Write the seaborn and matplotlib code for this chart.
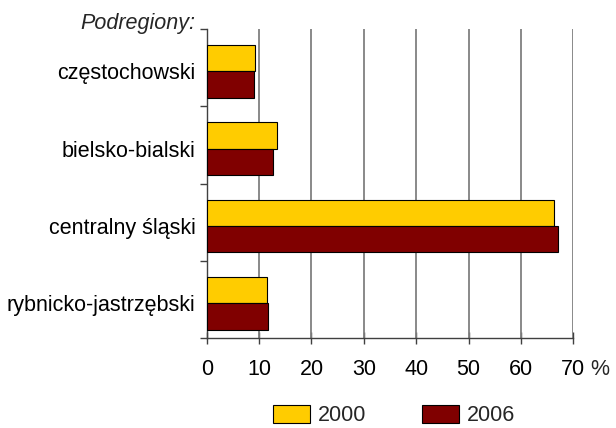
import matplotlib
matplotlib.use("Agg")
import matplotlib.pyplot as plt
import seaborn as sns
import pandas as pd
from matplotlib.patches import Patch
from matplotlib.ticker import FixedLocator

categories = ["częstochowski", "bielsko-bialski", "centralny śląski", "rybnicko-jastrzębski"]
years = ["2000", "2006"]
values_2000 = [9.2, 13.5, 66.3, 11.6]
values_2006 = [9.0, 12.7, 67.0, 11.8]
x_ticks = [0, 10, 20, 30, 40, 50, 60, 70]
x_tick_labels = ["0", "10", "20", "30", "40", "50", "60", "70"]
colors = {"2000": "#FFCC00", "2006": "#800000"}

df = pd.DataFrame({
    "Podregion": categories * 2,
    "Rok": [years[0]] * 4 + [years[1]] * 4,
    "Udział": values_2000 + values_2006,
})

sns.set_theme(style="white")
plt.rcParams["font.family"] = ["Liberation Sans", "DejaVu Sans"]
FS = 15.5

fig = plt.figure(figsize=(6.16, 4.28), dpi=100)
ax = fig.add_axes([206.7 / 616, 1 - 338 / 428, (573.3 - 206.7) / 616, (338 - 29) / 428])

sns.barplot(data=df, y="Podregion", x="Udział", hue="Rok", order=categories,
            hue_order=years, palette=colors, orient="h", width=0.68,
            edgecolor="black", linewidth=0.8, saturation=1, legend=False, ax=ax, zorder=3)

ax.set_xlim(0, 70)
ax.set_ylim(3.45, -0.55)
ax.set_xticks(x_ticks)
ax.set_xticklabels(x_tick_labels, fontsize=FS, color="black")
ax.set_xlabel("")
ax.set_ylabel("")
ax.tick_params(axis="y", length=0, pad=8, labelsize=FS, labelcolor="black")
ax.yaxis.set_minor_locator(FixedLocator([-0.55, 0.45, 1.45, 2.45, 3.45]))
ax.tick_params(axis="y", which="minor", length=5, width=1, color="#404040", left=True)
ax.tick_params(axis="x", direction="inout", length=8, width=1, color="#404040", pad=11, bottom=True)

for x in x_ticks[1:]:
    ax.axvline(x, color="#808080", linewidth=1.3, zorder=1)

for side in ["top", "right"]:
    ax.spines[side].set_visible(False)
for side in ["left", "bottom"]:
    ax.spines[side].set_color("#404040")
    ax.spines[side].set_linewidth(1.0)

ax.annotate("%", xy=(70, 0), xycoords=("data", "axes fraction"), xytext=(12, -(4 + 11)),
            textcoords="offset points", ha="left", va="top", fontsize=FS)

ax.annotate("Podregiony:", xy=(0, 1), xycoords="axes fraction", xytext=(-8, 0),
            textcoords="offset points", ha="right", va="baseline", fontsize=FS, style="italic")

handles = [Patch(facecolor=colors[y], edgecolor="black", linewidth=0.8, label=y) for y in years]
fig.legend(handles=handles, loc="upper center", bbox_to_anchor=(0.64, 0.079), ncol=2, frameon=False,
           fontsize=FS, handlelength=1.72, handleheight=0.9, columnspacing=2.6, handletextpad=0.37,
           borderpad=0)

fig.savefig("out.png", dpi=100, facecolor="white")
